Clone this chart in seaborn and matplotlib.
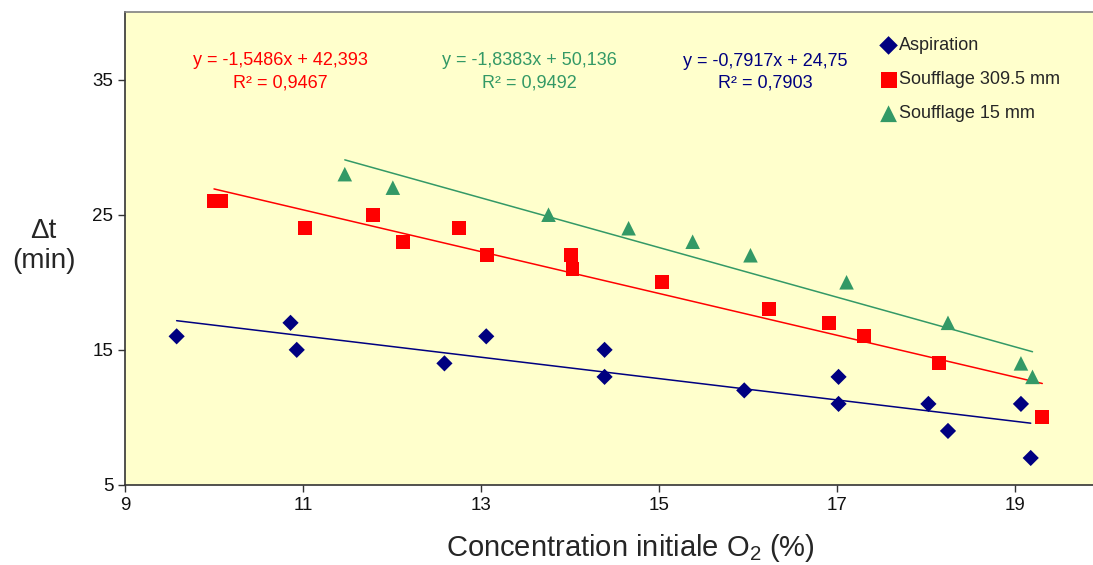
import matplotlib
matplotlib.use('Agg')

import numpy as np
import pandas as pd
import matplotlib.pyplot as plt
import seaborn as sns

# data
asp_x = [9.58, 10.86, 10.93, 12.59, 13.06, 14.39, 14.39, 15.96, 17.02, 17.02, 18.03, 18.25, 19.07, 19.18]
asp_y = [16, 17, 15, 14, 16, 15, 13, 12, 13, 11, 11, 9, 11, 7]

souf309_x = [10.0, 10.08, 11.02, 11.79, 12.12, 12.75, 13.07, 14.01, 14.03, 15.04, 16.24, 16.91, 17.31, 18.15, 19.31]
souf309_y = [26, 26, 24, 25, 23, 24, 22, 22, 21, 20, 18, 17, 16, 14, 10]

souf15_x = [11.47, 12.01, 13.76, 14.66, 15.38, 16.03, 17.11, 18.25, 19.07, 19.2]
souf15_y = [28, 27, 25, 24, 23, 22, 20, 17, 14, 13]

labels = ["Aspiration", "Soufflage 309.5 mm", "Soufflage 15 mm"]
equations = ["y = -0,7917x + 24,75\nR² = 0,7903",
             "y = -1,5486x + 42,393\nR² = 0,9467",
             "y = -1,8383x + 50,136\nR² = 0,9492"]
eq_pos = [(16.2, 35.55), (10.75, 35.6), (13.55, 35.6)]

colors = ["#000080", "#FF0000", "#339966"]
markers = ["D", "s", "^"]
sizes = [68, 100, 110]

sns.set_style("ticks")
plt.rcParams['font.family'] = ['Liberation Sans', 'DejaVu Sans']
plt.rcParams['mathtext.fontset'] = 'custom'
plt.rcParams['mathtext.rm'] = 'Liberation Sans'
plt.rcParams['mathtext.it'] = 'Liberation Sans:italic'

fig = plt.figure(figsize=(10.93, 5.65), dpi=100)
ax = fig.add_axes([0.1144, 0.1416, 0.8856, 0.8372])
ax.set_facecolor("#FFFFCC")

series = [(asp_x, asp_y), (souf309_x, souf309_y), (souf15_x, souf15_y)]
for (xs, ys), lab, c, m, s in zip(series, labels, colors, markers, sizes):
    df = pd.DataFrame({"x": xs, "y": ys})
    sns.regplot(data=df, x="x", y="y", scatter=False, ci=None, truncate=True,
                color=c, line_kws={"linewidth": 1.1}, ax=ax)
    sns.scatterplot(data=df, x="x", y="y", marker=m, s=s, color=c,
                    edgecolor="none", linewidth=0, label=lab, ax=ax, zorder=3)

for txt, (px, py), c in zip(equations, eq_pos, colors):
    ax.text(px, py, txt, color=c, fontsize=13, ha="center", va="center",
            multialignment="center", linespacing=1.4)

ax.set_xlim(9, 19.88)
ax.set_ylim(5, 40)
ax.set_xticks([9, 11, 13, 15, 17, 19])
ax.set_yticks([5, 15, 25, 35])
ax.tick_params(axis="both", labelsize=13.5, direction="out", length=5, width=1,
               color="#333333", labelcolor="#111111")

ax.set_xlabel("Concentration initiale O$_2$ (%)", fontsize=21)
ax.xaxis.set_label_coords(0.522, -0.1)
ax.set_ylabel("")
fig.text(0.040, 0.565, "Δt\n(min)", fontsize=20, ha="center", va="center",
         multialignment="center", linespacing=1.2)

for sp in ["left", "bottom"]:
    ax.spines[sp].set_color("#333333")
    ax.spines[sp].set_linewidth(1.2)
ax.spines["top"].set_color("#808080")
ax.spines["top"].set_linewidth(1.2)
ax.spines["right"].set_visible(False)

ax.legend(loc="upper left", bbox_to_anchor=(0.772, 0.962), frameon=False,
          fontsize=13, handletextpad=0.1, handlelength=1.0, labelspacing=0.95,
          borderaxespad=0, markerscale=1.15)

fig.savefig("out.png", dpi=100)
